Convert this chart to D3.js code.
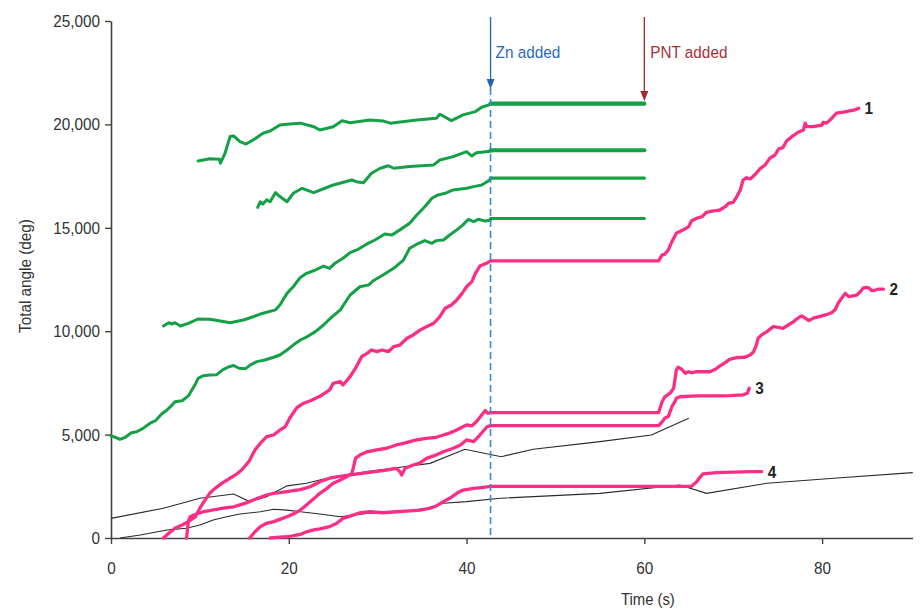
<!DOCTYPE html>
<html>
<head>
<meta charset="utf-8">
<script src="https://cdn.jsdelivr.net/npm/d3@7"></script>
<style>
  html, body { margin: 0; padding: 0; background: #fff; }
  svg { display: block; }
  text { font-family: "Liberation Sans", Arial, Helvetica, sans-serif; }
</style>
</head>
<body>
<svg id="chart" width="921" height="610"></svg>
<script>
// ---- data: time (s), total angle (deg) ----
const xTicks = [0, 20, 40, 60, 80];
const yTicks = [0, 5000, 10000, 15000, 20000, 25000];
const znTime = 42.7;
const pntTime = 60;

// green traces (no PNT response), ending where Zn is added
const greenA = [[9.8,18230],[11.1,18340],[12.2,18310],[12.3,18120],[12.8,18570],[13.4,19410],[13.8,19440],[14.5,19170],[15.2,19050],[16.0,19250],[17.1,19570],[17.9,19680],[19.0,19970],[20.1,20020],[21.3,20060],[22.8,19890],[23.5,19730],[25.0,19890],[26.0,20180],[26.9,20080],[29.1,20210],[30.6,20170],[31.4,20060],[34.4,20210],[36.6,20300],[37.0,20490],[38.3,20180],[39.6,20460],[41.0,20620],[41.7,20830],[42.7,20970]];
const greenB = [[16.5,15990],[16.8,16260],[17.1,16150],[17.5,16350],[17.9,16260],[18.5,16700],[19.0,16510],[19.8,16260],[20.5,16670],[21.5,16910],[22.8,16700],[25.0,17070],[27.1,17310],[27.6,17230],[28.4,17180],[29.3,17640],[30.3,17880],[31.2,18000],[31.8,17880],[33.6,17960],[36.3,18040],[37.0,18280],[38.5,18440],[40.0,18680],[40.6,18470],[41.1,18630],[42.7,18700]];
const greenC = [[5.9,10250],[6.5,10410],[6.8,10350],[7.2,10410],[7.8,10250],[8.7,10380],[9.8,10590],[11.1,10580],[12.3,10490],[13.4,10410],[14.9,10540],[16.0,10700],[17.1,10870],[18.5,11030],[19.0,11270],[19.8,11830],[20.5,12150],[21.3,12600],[22.0,12800],[23.0,12960],[23.9,13150],[24.6,13040],[25.2,13290],[26.1,13530],[26.9,13800],[27.8,13960],[28.8,14220],[29.7,14410],[30.8,14700],[31.6,14650],[32.5,14900],[33.6,15220],[34.4,15620],[35.3,16020],[36.1,16430],[36.8,16590],[37.6,16670],[38.5,16830],[40.0,16910],[40.8,16990],[41.7,17070],[42.3,17230],[42.7,17350]];
const greenD = [[0,4930],[0.5,4870],[1.0,4770],[1.6,4870],[2.3,5090],[2.9,5140],[3.6,5300],[4.4,5550],[5.0,5670],[5.7,6000],[6.3,6190],[6.8,6400],[7.2,6590],[8.0,6640],[8.7,6870],[9.1,7160],[9.5,7450],[9.8,7720],[10.4,7850],[11.1,7880],[11.9,7900],[12.6,8140],[13.2,8270],[13.8,8340],[14.4,8210],[15.1,8180],[15.7,8370],[16.4,8530],[17.3,8610],[18.3,8740],[19.0,8850],[19.8,9090],[20.5,9330],[21.3,9575],[22.0,9720],[23.0,9980],[23.9,10300],[24.8,10670],[25.8,11030],[26.9,11750],[28.0,12150],[29.0,12240],[29.5,12440],[30.6,12720],[31.8,13040],[32.9,13440],[33.6,14010],[34.6,14250],[35.3,14380],[36.1,14250],[36.6,14380],[37.4,14410],[38.1,14650],[38.9,14900],[39.6,15140],[40.2,15410],[40.8,15300],[41.3,15410],[42.1,15330],[42.7,15380]];
const greenTraces = [greenA, greenB, greenC, greenD];
// stalled level of each green trace after Zn, held until PNT
const greenPlateaus = [21000, 18750, 17400, 15450];
const greenPlateauWidths = [4.2, 4.2, 3.2, 3.2];

// pink traces (rescued by PNT); the flat stretch is the Zn stall
const pink1 = [[5.9,0],[6.5,230],[7.2,470],[8.0,630],[8.7,790],[9.5,1030],[10.0,1440],[10.6,1840],[11.1,2160],[11.7,2400],[12.5,2650],[13.2,2840],[14.0,3050],[14.7,3290],[15.5,3690],[16.2,4260],[16.8,4580],[17.5,4900],[18.3,4980],[19.0,5220],[19.6,5380],[20.1,5790],[20.9,6300],[21.6,6500],[22.5,6650],[23.5,6850],[24.6,7160],[25.0,7480],[25.8,7560],[26.1,7400],[26.9,7800],[27.6,8280],[28.2,8770],[28.8,8930],[29.3,9090],[29.9,9010],[30.5,9090],[31.2,9010],[31.8,9250],[32.5,9330],[33.3,9660],[34.0,9820],[34.8,10060],[35.5,10220],[36.3,10380],[37.0,10700],[37.6,11110],[38.3,11270],[38.9,11510],[39.5,11830],[40.0,12150],[40.6,12400],[41.0,12800],[41.5,13150],[42.3,13300],[42.7,13400],[61.6,13400],[62.0,13690],[62.3,13720],[62.7,13930],[63.1,14330],[63.6,14740],[64.4,14900],[65.0,15060],[65.3,15330],[65.9,15460],[66.5,15540],[67.0,15750],[67.6,15810],[68.5,15860],[69.1,16020],[69.5,16190],[70.0,16230],[70.4,16510],[70.8,16830],[71.1,17310],[71.5,17420],[71.9,17360],[72.5,17590],[73.0,17850],[73.6,18040],[74.1,18360],[74.7,18520],[75.1,18810],[75.6,18880],[76.0,19200],[76.6,19410],[77.3,19620],[77.9,19730],[78.1,20060],[78.3,19890],[79.0,19890],[80.0,19970],[80.1,20100],[80.5,20060],[81.1,20300],[81.6,20540],[82.4,20590],[83.1,20650],[83.7,20700],[84.1,20780]];
const pink2 = [[15.6,0],[16.2,300],[16.8,550],[17.5,710],[18.3,790],[19.0,900],[19.8,1030],[20.5,1160],[21.3,1350],[22.0,1600],[22.8,1900],[23.5,2160],[24.3,2400],[25.0,2650],[25.8,2800],[26.5,2960],[27.1,3130],[27.3,3450],[27.5,3850],[28.0,4010],[28.8,4170],[29.9,4260],[31.0,4340],[32.1,4500],[32.9,4580],[33.6,4660],[34.4,4740],[35.5,4820],[36.6,4870],[37.4,4980],[38.0,5060],[38.9,5220],[39.6,5380],[40.0,5470],[40.6,5420],[41.1,5620],[41.7,5950],[42.1,6160],[42.4,6030],[42.7,6060],[61.6,6060],[62.0,6590],[62.3,6830],[62.9,7000],[63.3,7240],[63.6,8120],[63.8,8260],[64.2,8160],[64.6,7970],[65.0,8040],[65.3,7990],[65.9,8040],[67.4,8040],[68.0,8160],[68.3,8260],[69.1,8480],[69.6,8640],[70.4,8720],[71.3,8740],[71.9,8850],[72.3,9010],[72.6,9330],[72.8,9660],[73.2,9820],[73.8,9980],[74.5,10220],[75.1,10190],[75.6,10140],[76.2,10300],[76.8,10460],[77.1,10580],[77.7,10740],[78.1,10630],[78.5,10510],[79.0,10630],[80.0,10740],[80.7,10830],[81.1,10900],[81.5,11060],[81.8,11350],[82.2,11590],[82.6,11830],[83.0,11670],[83.3,11700],[83.9,11750],[84.3,11910],[84.6,12080],[85.0,12120],[85.3,12080],[85.6,11960],[86.0,11990],[86.3,12030],[86.9,12030]];
const pink3 = [[8.5,0],[8.6,390],[8.7,790],[8.9,1030],[9.6,1160],[10.4,1270],[11.1,1320],[11.9,1390],[12.6,1440],[13.8,1510],[14.5,1600],[15.3,1710],[16.0,1840],[16.8,1970],[17.5,2080],[18.3,2160],[19.0,2190],[19.8,2240],[20.5,2290],[21.3,2340],[22.4,2480],[23.5,2720],[24.6,2890],[25.4,2960],[26.9,3050],[28.8,3160],[30.6,3260],[32.1,3370],[32.5,3210],[32.7,3050],[33.1,3370],[34.0,3530],[34.8,3640],[35.5,3850],[36.3,3970],[37.4,4170],[38.5,4340],[39.3,4500],[40.0,4740],[40.8,4660],[41.5,4980],[42.3,5380],[42.7,5430],[61.6,5430],[62.0,5620],[62.3,5790],[62.7,5870],[62.9,6110],[63.1,6350],[63.5,6640],[63.6,6760],[64.0,6830],[65.9,6870],[67.8,6870],[69.6,6880],[71.1,6920],[71.6,7000],[71.8,7240]];
const pink4 = [[17.9,0],[18.6,30],[19.8,60],[20.9,145],[21.3,170],[22.0,300],[22.8,390],[23.5,440],[24.6,550],[25.4,710],[26.1,950],[26.9,1060],[28.0,1220],[29.1,1270],[30.6,1220],[32.1,1270],[33.6,1310],[34.8,1350],[35.9,1440],[36.6,1550],[37.4,1760],[38.1,1920],[38.9,2160],[39.6,2320],[40.8,2400],[41.9,2450],[42.7,2500],[65.3,2500],[65.9,2720],[66.3,2960],[66.6,3100],[68.1,3160],[70.0,3190],[71.9,3210],[73.2,3210]];
const pinkTraces = [pink1, pink2, pink3, pink4];
const pinkLabels = ["1", "2", "3", "4"];

// thin black reference traces
const blackA = [[0,950],[5.9,1440],[10.0,1920],[13.8,2130],[15.6,1760],[17.5,2000],[19.8,2520],[22.0,2650],[24.3,2890],[28.8,3210],[32.5,3420],[35.9,3610],[39.8,4290],[43.9,3930],[47.5,4290],[55.0,4660],[60.8,4980],[61.6,5140],[65.0,5790]];
const blackB = [[1.0,0],[3.3,145],[6.3,390],[8.5,470],[10.0,630],[11.5,870],[13.0,1030],[14.5,1160],[16.8,1270],[18.3,1390],[19.8,1350],[21.3,1270],[23.5,1160],[25.8,1030],[28.8,1190],[32.5,1270],[35.5,1440],[37.4,1680],[40.0,1760],[43.8,1920],[55.0,2160],[64.0,2560],[67.0,2160],[73.8,2650],[81.3,2890],[90.2,3160]];
const blackTraces = [blackA, blackB];

// ---- drawing ----
const svg = d3.select("#chart");
const x = d3.scaleLinear().domain([0, 90]).range([111, 911]);
const y = d3.scaleLinear().domain([0, 25000]).range([538, 21]);

const GREEN = "#14a046";
const PINK = "#fb2e85";
const NARROW = 0.9; // horizontal squeeze giving a condensed face
const line = d3.line().x(d => x(d[0])).y(d => y(d[1]));

// condensed text placed at (tx, ty)
function label(tx, ty, str, size, color, anchor) {
  return svg.append("text")
    .attr("transform", `translate(${tx},${ty}) scale(${NARROW},1)`)
    .attr("text-anchor", anchor || "start")
    .attr("fill", color).style("font-size", size + "px")
    .text(str);
}

// axes
const yAxis = svg.append("g").attr("transform", `translate(${x(0)},0)`)
  .call(d3.axisLeft(y).tickValues(yTicks).tickFormat(d3.format(",")).tickSize(6).tickSizeOuter(0).tickPadding(5));
const xAxis = svg.append("g").attr("transform", `translate(0,${y(0)})`)
  .call(d3.axisBottom(x).tickValues(xTicks).tickSize(6).tickSizeOuter(0).tickPadding(18));
xAxis.select(".domain").attr("d", `M${x(0)},0.5H${x(90) + 2}`);
[xAxis, yAxis].forEach(g => {
  g.select(".domain").attr("stroke", "#444").attr("stroke-width", 1.6);
  g.selectAll(".tick line").attr("stroke", "#444").attr("stroke-width", 1.4);
  g.selectAll(".tick text").attr("fill", "#333").style("font-size", "17px")
    .style("font-family", "'Liberation Sans', Arial, sans-serif");
});
yAxis.selectAll(".tick text").attr("transform", `translate(-11,0) scale(${NARROW},1)`).attr("x", 0);
xAxis.selectAll(".tick text").attr("transform", `scale(${NARROW},1)`);

label(0, 0, "Total angle (deg)", 17, "#333", "middle")
  .attr("transform", `translate(31,276) rotate(-90) scale(${NARROW},1)`);
label(x(60.4), 605, "Time (s)", 16.5, "#333", "middle");

// black reference traces
svg.append("g").selectAll("path").data(blackTraces).join("path")
  .attr("d", line).attr("fill", "none").attr("stroke", "#2a2a2a").attr("stroke-width", 1.1);

// green traces and their plateaus
svg.append("g").selectAll("path").data(greenTraces).join("path")
  .attr("d", line).attr("fill", "none").attr("stroke", GREEN).attr("stroke-width", 3)
  .attr("stroke-linejoin", "round").attr("stroke-linecap", "round");
svg.append("g").selectAll("line").data(greenPlateaus).join("line")
  .attr("x1", x(znTime)).attr("x2", x(pntTime))
  .attr("y1", d => y(d)).attr("y2", d => y(d))
  .attr("stroke", GREEN).attr("stroke-width", (d, i) => greenPlateauWidths[i]).attr("stroke-linecap", "round");

// pink traces
svg.append("g").selectAll("path").data(pinkTraces).join("path")
  .attr("d", line).attr("fill", "none").attr("stroke", PINK).attr("stroke-width", 3.3)
  .attr("stroke-linejoin", "round").attr("stroke-linecap", "round");
pinkTraces.forEach((d, i) => {
  const last = d[d.length - 1];
  label(x(last[0]) + 6, y(last[1]) + 6, pinkLabels[i], 17, "#222").style("font-weight", "bold");
});

// Zn addition marker
const zx = x(znTime);
svg.append("line").attr("x1", zx).attr("x2", zx).attr("y1", 88).attr("y2", y(0))
  .attr("stroke", "#3d86d8").attr("stroke-width", 1.6).attr("stroke-dasharray", "7,4");
svg.append("line").attr("x1", zx).attr("x2", zx).attr("y1", 17).attr("y2", 82)
  .attr("stroke", "#2563b8").attr("stroke-width", 1.3);
svg.append("path").attr("d", `M${zx - 4},79L${zx + 4},79L${zx},89Z`).attr("fill", "#2563b8");
label(zx + 5, 58, "Zn added", 17, "#2a68bd");

// PNT addition marker
const px = x(pntTime);
svg.append("line").attr("x1", px).attr("x2", px).attr("y1", 17).attr("y2", 94)
  .attr("stroke", "#a3262e").attr("stroke-width", 1.3);
svg.append("path").attr("d", `M${px - 4},91L${px + 4},91L${px},101Z`).attr("fill", "#a3262e");
label(px + 6, 58, "PNT added", 17, "#a83038");
</script>
</body>
</html>
